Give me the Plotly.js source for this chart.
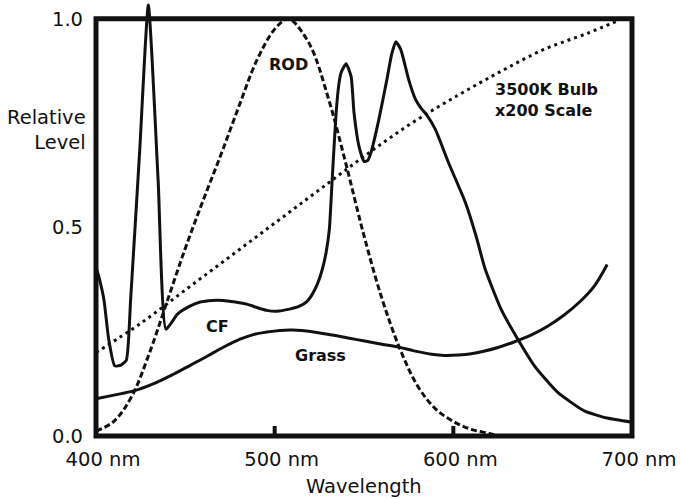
<!DOCTYPE html>
<html>
<head>
<meta charset="utf-8">
<script src="https://cdn.plot.ly/plotly-3.0.1.min.js"></script>
<style>
  html, body { margin: 0; padding: 0; background: #fff; }
  #chart { width: 682px; height: 500px; }
</style>
</head>
<body>
<div id="chart"></div>
<script>
// ---- Data ----
const cfWavelength = [400, 401.5, 404.5, 407, 410.5, 414, 417, 419.4, 424.5, 429.3, 434.8, 439.2,
  445.6, 452, 458.3, 465, 471.1, 478, 484.4, 490, 495.6, 501.1, 508.3, 513.9, 518, 521.1, 524,
  526.7, 528.8, 530.6, 532.2, 534.4, 536, 537.2, 540, 542.8, 544.4, 547.2, 550, 552, 553.9,
  558.3, 562.8, 565.5, 567.8, 570.6, 575, 578.9, 582, 585, 590, 597.2, 606.7, 612.8, 617.8,
  626.7, 636.1, 645.6, 658.3, 673.3, 686, 700];
const cfLevel = [0.404, 0.383, 0.325, 0.235, 0.168, 0.170, 0.182, 0.328, 0.687, 1.033, 0.610, 0.256,
  0.292, 0.310, 0.321, 0.325, 0.325, 0.321, 0.316, 0.308, 0.301, 0.299, 0.304, 0.311, 0.322, 0.340, 0.365,
  0.400, 0.440, 0.495, 0.615, 0.775, 0.845, 0.871, 0.892, 0.861, 0.775, 0.694, 0.658, 0.660, 0.679,
  0.758, 0.854, 0.915, 0.945, 0.926, 0.854, 0.806, 0.785, 0.770, 0.734, 0.656, 0.560, 0.478, 0.400,
  0.304, 0.232, 0.167, 0.105, 0.060, 0.043, 0.033];

const rodWavelength = [400, 410, 420, 430, 440, 450, 460, 470, 480, 490, 500, 507, 510, 520, 530,
  540, 550, 560, 570, 580, 590, 600, 610, 620, 626];
const rodLevel = [0.012, 0.035, 0.095, 0.200, 0.325, 0.450, 0.565, 0.675, 0.790, 0.900, 0.975, 1.0,
  0.995, 0.935, 0.810, 0.650, 0.480, 0.330, 0.210, 0.120, 0.065, 0.035, 0.016, 0.006, 0.0];

const bulbWavelength = [400, 425, 450, 475, 500, 525, 550, 575, 600, 625, 650, 675, 692];
const bulbLevel = [0.20, 0.27, 0.35, 0.43, 0.51, 0.59, 0.67, 0.745, 0.81, 0.87, 0.925, 0.965, 0.995];

const grassWavelength = [400, 410, 421, 432, 443.3, 453, 462.2, 471, 480.6, 488, 495.6, 503, 510,
  521, 532.2, 541, 551.1, 560, 569.4, 578, 587.8, 595, 603, 610, 617, 625, 635, 644, 652.8, 662,
  671.1, 679, 686.1];
const grassLevel = [0.089, 0.098, 0.108, 0.125, 0.148, 0.170, 0.191, 0.212, 0.232, 0.243, 0.249,
  0.253, 0.254, 0.250, 0.242, 0.235, 0.227, 0.220, 0.213, 0.204, 0.196, 0.193, 0.194, 0.197, 0.203,
  0.212, 0.227, 0.243, 0.263, 0.290, 0.323, 0.360, 0.411];

const xTickValues = [400, 500, 600, 700];
const xTickLabels = ['400 nm', '500 nm', '600 nm', '700 nm'];
const yTickValues = [0, 0.5, 1];
const yTickLabels = ['0.0', '0.5', '1.0'];

const curveLabels = [
  {text: 'ROD', x: 507.8, y: 0.891, anchor: 'center'},
  {text: '3500K Bulb<br>x200 Scale', x: 622.1, y: 0.804, anchor: 'left'},
  {text: 'CF', x: 468.1, y: 0.263, anchor: 'center'},
  {text: 'Grass', x: 525.8, y: 0.194, anchor: 'center'}
];

// ---- Chart ----
const ink = '#111';
const regFont = {family: 'DejaVu Sans, Arial, sans-serif', size: 19.5, color: ink};
const boldFont = {family: 'DejaVu Sans, Arial, sans-serif', size: 16, color: ink, weight: 'bold'};
const yTop = 1.04;

const traces = [
  {x: bulbWavelength, y: bulbLevel, mode: 'lines', line: {color: ink, width: 3, dash: '3px,4px', shape: 'spline'}},
  {x: rodWavelength, y: rodLevel, mode: 'lines', line: {color: ink, width: 3, dash: '6px,3px', shape: 'spline'}},
  {x: grassWavelength, y: grassLevel, mode: 'lines', line: {color: ink, width: 3, shape: 'spline'}},
  {x: cfWavelength, y: cfLevel, mode: 'lines', line: {color: ink, width: 3, shape: 'spline', smoothing: 0.5}}
];

const annotations = curveLabels.map(l => ({
  text: '<b>' + l.text + '</b>', x: l.x, y: l.y, xref: 'x', yref: 'y',
  xanchor: l.anchor, yanchor: 'middle', align: 'left', showarrow: false, font: boldFont
}));
annotations.push({
  text: 'Relative<br>Level', xref: 'paper', yref: 'paper',
  x: -0.0145, y: 1 - (130 - 2) / 434, xanchor: 'right', yanchor: 'middle', align: 'right',
  showarrow: false, font: regFont
});
annotations.push({
  text: 'Wavelength', xref: 'paper', yref: 'paper',
  x: 0.5, y: -(486 - 436) / 434, xanchor: 'center', yanchor: 'middle',
  showarrow: false, font: regFont
});

// frame and inside tick marks on the bottom edge
const shapes = [{
  type: 'rect', xref: 'paper', yref: 'paper', x0: 0, x1: 1, y0: 0, y1: 1 / yTop,
  line: {color: ink, width: 5}, fillcolor: 'rgba(0,0,0,0)', layer: 'above'
}];
xTickValues.slice(1, -1).forEach(v => shapes.push({
  type: 'line', xref: 'x', yref: 'paper', x0: v, x1: v, y0: 0, y1: 10 / 434,
  line: {color: ink, width: 4}, layer: 'above'
}));

const layout = {
  width: 682, height: 500,
  margin: {l: 96, r: 50, t: 2, b: 64, pad: 0},
  paper_bgcolor: '#fff', plot_bgcolor: '#fff',
  showlegend: false,
  font: regFont,
  xaxis: {
    range: [400, 700], tickvals: xTickValues, ticktext: xTickLabels,
    ticks: '', showgrid: false, zeroline: false, showline: false,
    tickfont: regFont, ticklabelshift: 7, ticklabelstandoff: 9
  },
  yaxis: {
    range: [0, yTop], tickvals: yTickValues, ticktext: yTickLabels,
    ticks: '', showgrid: false, zeroline: false, showline: false,
    tickfont: regFont, ticklabelstandoff: 12
  },
  shapes: shapes,
  annotations: annotations
};

Plotly.newPlot('chart', traces, layout, {staticPlot: true, displayModeBar: false});
</script>
</body>
</html>
